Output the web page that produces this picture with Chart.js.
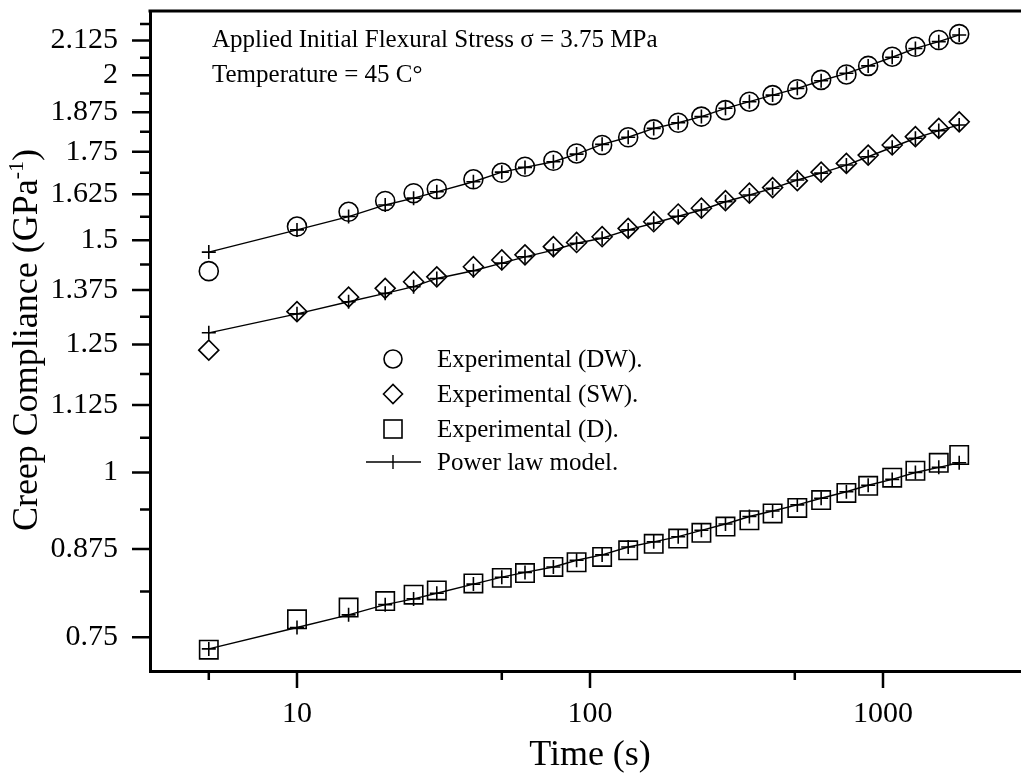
<!DOCTYPE html>
<html>
<head>
<meta charset="utf-8">
<script src="https://cdn.jsdelivr.net/npm/chart.js@4"></script>
<style>
  html, body { margin: 0; padding: 0; background: #fff; }
</style>
</head>
<body>
<canvas id="creepChart" width="1021" height="776"></canvas>
<script>
// time (s)
const times = [5, 10, 15, 20, 25, 30, 40, 50, 60, 75, 90, 110, 135, 165, 200, 240, 290, 350, 420, 510, 615, 750, 890, 1075, 1290, 1550, 1820];

// creep compliance (GPa^-1)
const dwExp = [1.421, 1.536, 1.576, 1.606, 1.628, 1.640, 1.668, 1.687, 1.705, 1.723, 1.745, 1.771, 1.795, 1.820, 1.841, 1.861, 1.882, 1.910, 1.932, 1.952, 1.984, 2.003, 2.033, 2.066, 2.102, 2.127, 2.149];
const swExp = [1.238, 1.324, 1.358, 1.379, 1.395, 1.407, 1.432, 1.449, 1.462, 1.483, 1.494, 1.509, 1.531, 1.549, 1.570, 1.586, 1.607, 1.628, 1.644, 1.664, 1.689, 1.715, 1.740, 1.771, 1.797, 1.823, 1.844];
const dExp  = [0.734, 0.774, 0.790, 0.799, 0.808, 0.814, 0.824, 0.832, 0.839, 0.848, 0.855, 0.863, 0.873, 0.883, 0.891, 0.900, 0.910, 0.920, 0.931, 0.940, 0.953, 0.965, 0.977, 0.991, 1.003, 1.017, 1.031];

// power law model curves
const dwModel = [1.469, 1.527, 1.563, 1.595, 1.614, 1.632, 1.661, 1.689, 1.703, 1.720, 1.743, 1.773, 1.795, 1.823, 1.841, 1.861, 1.888, 1.910, 1.932, 1.955, 1.981, 2.007, 2.033, 2.064, 2.096, 2.121, 2.146];
const swModel = [1.276, 1.319, 1.347, 1.367, 1.383, 1.403, 1.422, 1.441, 1.457, 1.474, 1.492, 1.505, 1.527, 1.545, 1.564, 1.581, 1.604, 1.623, 1.642, 1.666, 1.686, 1.710, 1.735, 1.764, 1.792, 1.816, 1.834];
const dModel  = [0.735, 0.763, 0.780, 0.794, 0.802, 0.810, 0.823, 0.833, 0.840, 0.848, 0.858, 0.866, 0.878, 0.886, 0.894, 0.904, 0.914, 0.926, 0.935, 0.945, 0.956, 0.967, 0.978, 0.988, 1.000, 1.009, 1.017];

// axis ticks
const yMajorTicks = [0.75, 0.875, 1, 1.125, 1.25, 1.375, 1.5, 1.625, 1.75, 1.875, 2, 2.125];
const yMinorTicks = [0.8125, 0.9375, 1.0625, 1.1875, 1.3125, 1.4375, 1.5625, 1.6875, 1.8125, 1.9375, 2.0625, 2.1875];
const xMajorTicks = [10, 100, 1000];
const xMinorTicks = [5, 50, 500];

const legendLabels = ['Experimental (DW).', 'Experimental (SW).', 'Experimental (D).', 'Power law model.'];
const noteLines = ['Applied Initial Flexural Stress \u03c3 = 3.75 MPa', 'Temperature = 45 C\u00b0'];

const serif = '"Liberation Serif", "Times New Roman", serif';

function pts(xs, ys) {
    return xs.map((x, i) => ({ x: x, y: ys[i] }));
}

function expSet(label, ys, style, radius) {
    return {
        label: label,
        data: pts(times, ys),
        showLine: false,
        pointStyle: style,
        pointRadius: radius,
        pointHoverRadius: radius,
        pointBorderColor: '#000',
        pointBorderWidth: 1.6,
        pointBackgroundColor: 'rgba(0,0,0,0)'
    };
}

function modelSet(ys) {
    return {
        label: 'Power law model.',
        data: pts(times, ys),
        showLine: true,
        borderColor: '#000',
        borderWidth: 1.4,
        fill: false,
        pointStyle: 'cross',
        pointRadius: 7,
        pointHoverRadius: 7,
        pointBorderColor: '#000',
        pointBorderWidth: 1.6
    };
}

// ticks, frame, notes, legend and axis titles
const decorations = {
    id: 'decorations',
    afterDraw(chart) {
        const ctx = chart.ctx;
        const area = chart.chartArea;
        const x = chart.scales.x;
        const y = chart.scales.y;
        ctx.save();
        ctx.strokeStyle = '#000';
        ctx.fillStyle = '#000';

        // top frame line
        ctx.lineWidth = 3;
        ctx.beginPath();
        ctx.moveTo(area.left - 1.5, area.top);
        ctx.lineTo(area.right, area.top);
        ctx.stroke();

        // tick marks
        ctx.lineWidth = 2.5;
        ctx.beginPath();
        yMajorTicks.forEach(v => {
            const py = y.getPixelForValue(v);
            ctx.moveTo(area.left, py);
            ctx.lineTo(area.left - 18, py);
        });
        yMinorTicks.forEach(v => {
            const py = y.getPixelForValue(v);
            ctx.moveTo(area.left, py);
            ctx.lineTo(area.left - 10, py);
        });
        xMajorTicks.forEach(v => {
            const px = x.getPixelForValue(v);
            ctx.moveTo(px, area.bottom);
            ctx.lineTo(px, area.bottom + 17);
        });
        xMinorTicks.forEach(v => {
            const px = x.getPixelForValue(v);
            ctx.moveTo(px, area.bottom);
            ctx.lineTo(px, area.bottom + 9);
        });
        ctx.stroke();

        // notes
        ctx.font = '25px ' + serif;
        ctx.textAlign = 'left';
        ctx.textBaseline = 'alphabetic';
        ctx.fillText(noteLines[0], 212, 47);
        ctx.fillText(noteLines[1], 212, 82);

        // legend
        const mx = 393;
        const rows = [359, 394, 429, 462];
        ctx.lineWidth = 1.6;
        ctx.beginPath();
        ctx.arc(mx, rows[0], 9, 0, Math.PI * 2);
        ctx.stroke();
        ctx.beginPath();
        ctx.moveTo(mx - 9.5, rows[1]);
        ctx.lineTo(mx, rows[1] - 9.5);
        ctx.lineTo(mx + 9.5, rows[1]);
        ctx.lineTo(mx, rows[1] + 9.5);
        ctx.closePath();
        ctx.stroke();
        ctx.strokeRect(mx - 9, rows[2] - 9, 18, 18);
        ctx.lineWidth = 1.4;
        ctx.beginPath();
        ctx.moveTo(366, rows[3]);
        ctx.lineTo(421, rows[3]);
        ctx.moveTo(mx, rows[3] - 7);
        ctx.lineTo(mx, rows[3] + 7);
        ctx.stroke();
        legendLabels.forEach((t, i) => {
            ctx.fillText(t, 437, rows[i] + 8);
        });

        // x title
        ctx.font = '36px ' + serif;
        ctx.textAlign = 'center';
        ctx.fillText('Time (s)', 590, 765);

        // y title with superscript
        ctx.translate(37, 340);
        ctx.rotate(-Math.PI / 2);
        const main = 'Creep Compliance (GPa';
        const sup = '-1';
        const tail = ')';
        ctx.font = '36px ' + serif;
        const w1 = ctx.measureText(main).width;
        const w3 = ctx.measureText(tail).width;
        ctx.font = '22px ' + serif;
        const w2 = ctx.measureText(sup).width;
        const x0 = -(w1 + w2 + w3) / 2;
        ctx.textAlign = 'left';
        ctx.font = '36px ' + serif;
        ctx.fillText(main, x0, 0);
        ctx.font = '22px ' + serif;
        ctx.fillText(sup, x0 + w1, -14);
        ctx.font = '36px ' + serif;
        ctx.fillText(tail, x0 + w1 + w2, 0);
        ctx.restore();
    }
};

const ctx = document.getElementById('creepChart').getContext('2d');

new Chart(ctx, {
    type: 'scatter',
    data: {
        datasets: [
            expSet(legendLabels[0], dwExp, 'circle', 9.5),
            expSet(legendLabels[1], swExp, 'rectRot', 10),
            expSet(legendLabels[2], dExp, 'rect', 13),
            modelSet(dwModel),
            modelSet(swModel),
            modelSet(dModel)
        ]
    },
    options: {
        responsive: false,
        animation: false,
        devicePixelRatio: 1,
        layout: { autoPadding: false, padding: { top: 11, left: 0, right: 0, bottom: 0 } },
        plugins: {
            legend: { display: false },
            tooltip: { enabled: false }
        },
        scales: {
            x: {
                type: 'logarithmic',
                position: 'bottom',
                min: 3.15,
                max: 2958,
                bounds: 'data',
                afterBuildTicks: scale => {
                    scale.ticks = xMinorTicks.concat(xMajorTicks).sort((a, b) => a - b).map(v => ({ value: v }));
                },
                afterFit: scale => {
                    scale.height = 105;
                    scale.paddingLeft = 0;
                    scale.paddingRight = 0;
                },
                ticks: {
                    autoSkip: false,
                    maxRotation: 0,
                    padding: 25,
                    color: '#000',
                    font: { family: serif, size: 30 },
                    callback: v => xMajorTicks.includes(v) ? String(v) : ''
                },
                grid: { display: true, drawOnChartArea: false, drawTicks: false },
                border: { display: true, color: '#000', width: 3 }
            },
            y: {
                type: 'logarithmic',
                position: 'left',
                min: 0.7072,
                max: 2.2375,
                bounds: 'data',
                afterBuildTicks: scale => {
                    scale.ticks = yMajorTicks.concat(yMinorTicks).sort((a, b) => a - b).map(v => ({ value: v }));
                },
                afterFit: scale => {
                    scale.width = 150;
                    scale.paddingTop = 0;
                    scale.paddingBottom = 0;
                },
                ticks: {
                    autoSkip: false,
                    padding: 32,
                    color: '#000',
                    font: { family: serif, size: 30 },
                    callback: v => yMajorTicks.includes(v) ? String(v) : ''
                },
                grid: { display: true, drawOnChartArea: false, drawTicks: false },
                border: { display: true, color: '#000', width: 3 }
            }
        }
    },
    plugins: [decorations]
});
</script>
</body>
</html>
